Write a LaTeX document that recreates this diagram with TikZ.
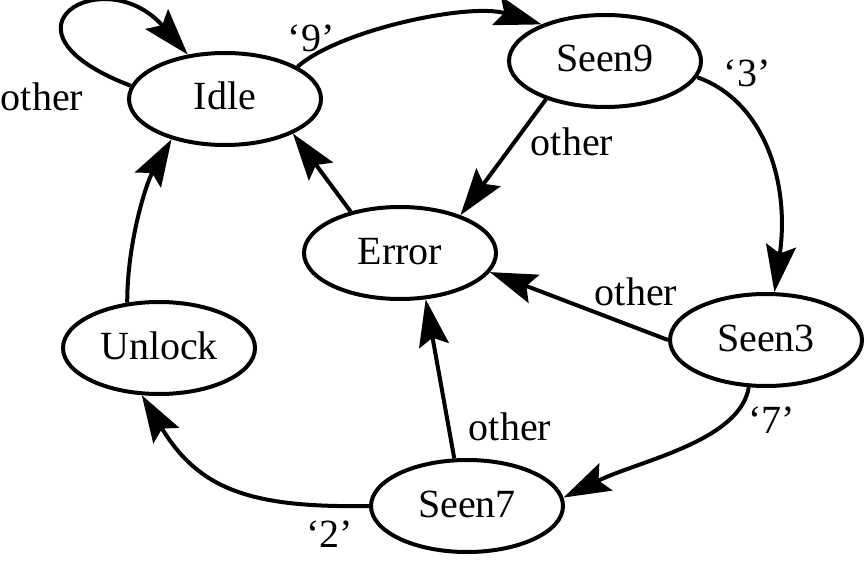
\documentclass[tikz,border=0pt]{standalone}
\usepackage{fontspec}
\setmainfont{Liberation Serif}
\usetikzlibrary{shapes.geometric,arrows.meta}
\begin{document}
\begin{tikzpicture}[x=1pt,y=1pt,
  state/.style={ellipse,draw,line width=4pt,minimum width=192pt,minimum height=92pt,
    inner sep=0pt,font=\fontsize{40}{48}\selectfont,text height=27pt,text depth=5pt},
  lbl/.style={inner sep=0pt,font=\fontsize{40}{48}\selectfont},
  edge/.style={line width=4pt,-{Stealth[length=47pt,width=30pt,inset=8pt]}}]
\useasboundingbox (0,0) rectangle (866,-561);
\node[state] (Idle)   at (225,-99)  {Idle};
\node[state] (Seen9)  at (605,-61)  {Seen9};
\node[state] (Error)  at (400,-253) {Error};
\node[state] (Seen3)  at (766,-340) {Seen3};
\node[state] (Unlock) at (159,-348) {Unlock};
\node[state] (Seen7)  at (467,-506) {Seen7};

\draw[edge] (Idle.172) .. controls +(-147,56) and +(-83,95) .. (Idle.130);
\draw[edge] (Idle.24) .. controls +(42,37) and +(-72,22) .. (Seen9.150);
\draw[edge] (Seen9.-10) .. controls +(65,-23) and +(16,113) .. (Seen3.80);
\draw[edge] (Seen9.213) -- (Error.32);
\draw[edge] (Seen3.180) -- (Error.-12);
\draw[edge] (Error.140) -- (Idle.-27);
\draw[edge] (Seen3.250) .. controls +(-9,-54) and +(76,37) .. (Seen7.5);
\draw[edge] (Seen7.105) -- (Error.-61);
\draw[edge] (Seen7.180) .. controls +(-119,-2) and +(57,-94) .. (Unlock.250);
\draw[edge] (Unlock.125) .. controls +(0,61) and +(-25,-43) .. (Idle.217);

\node[lbl] (l1) at (42,-96.5) {other};
\node[lbl] (l2) at (311,-38) {‘9’};
\node[lbl] (l3) at (747,-73) {‘3’};
\node[lbl] (l4) at (572,-141.5) {other};
\node[lbl] (l5) at (636,-291.5) {other};
\node[lbl] (l6) at (510,-426.5) {other};
\node[lbl] (l7) at (771.5,-420) {‘7’};
\node[lbl] (l8) at (329.5,-534) {‘2’};
\end{tikzpicture}
\end{document}
